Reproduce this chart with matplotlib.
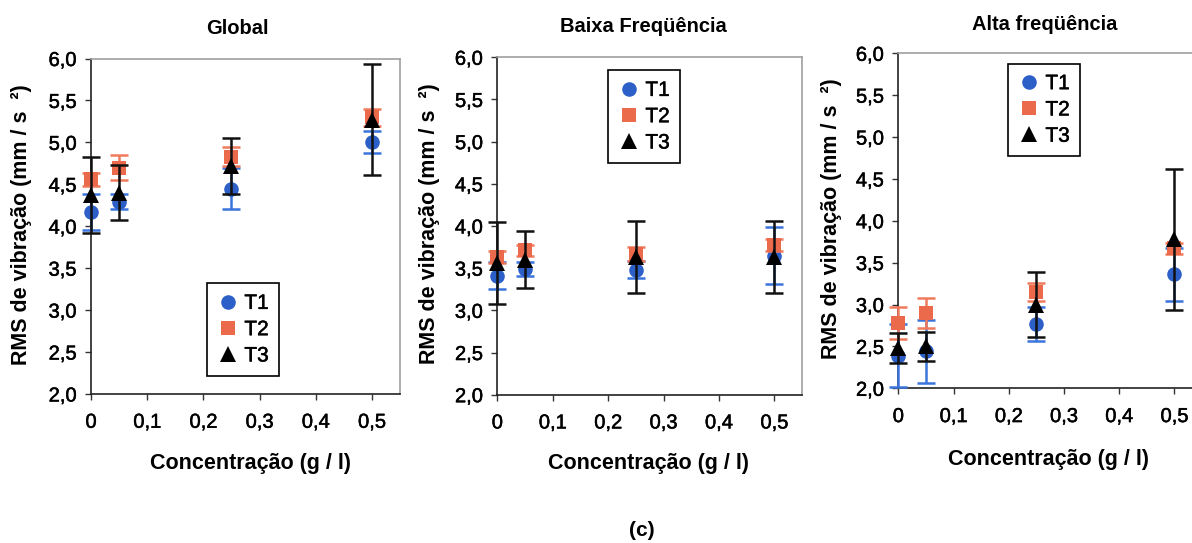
import matplotlib
matplotlib.use("Agg")
import matplotlib.pyplot as plt
import matplotlib.patheffects as pe
from matplotlib.lines import Line2D

plt.rcParams['font.family'] = ['Liberation Sans', 'DejaVu Sans']

# ---- data ----
conc = [0.0, 0.05, 0.25, 0.5]
series_names = ["T1", "T2", "T3"]

titles = ["Global", "Baixa Freqüência", "Alta freqüência"]

glob_t1 = [4.17, 4.29, 4.45, 5.00]
glob_t1_err = [0.22, 0.09, 0.24, 0.13]
glob_t2 = [4.56, 4.70, 4.83, 5.30]
glob_t2_err = [0.08, 0.15, 0.11, 0.10]
glob_t3 = [4.37, 4.40, 4.72, 5.27]
glob_t3_err = [0.45, 0.33, 0.33, 0.66]

baixa_t1 = [3.41, 3.49, 3.48, 3.65]
baixa_t1_err = [0.16, 0.08, 0.10, 0.34]
baixa_t2 = [3.63, 3.71, 3.67, 3.77]
baixa_t2_err = [0.07, 0.06, 0.08, 0.07]
baixa_t3 = [3.56, 3.60, 3.63, 3.63]
baixa_t3_err = [0.49, 0.34, 0.43, 0.43]

alta_t1 = [2.39, 2.44, 2.77, 3.36]
alta_t1_err = [0.38, 0.38, 0.20, 0.32]
alta_t2 = [2.78, 2.90, 3.15, 3.67]
alta_t2_err = [0.19, 0.18, 0.11, 0.07]
alta_t3 = [2.48, 2.50, 3.00, 3.78]
alta_t3_err = [0.18, 0.175, 0.39, 0.84]

xticks = [0, 0.1, 0.2, 0.3, 0.4, 0.5]
xtick_labels = ["0", "0,1", "0,2", "0,3", "0,4", "0,5"]
yticks = [2.0, 2.5, 3.0, 3.5, 4.0, 4.5, 5.0, 5.5, 6.0]
ytick_labels = ["2,0", "2,5", "3,0", "3,5", "4,0", "4,5", "5,0", "5,5", "6,0"]

xlabel = "Concentração (g / l)"
ylabel = "RMS de vibração (mm / s  ²)"

# ---- style ----
marker_color = ["#2d5fc8", "#ec6a4c", "#000000"]
err_color = ["#3b74db", "#f07a5c", "#111111"]
markers = ["o", "s", "^"]
msizes = [10.5, 9.5, 11]

panels = [
    (glob_t1, glob_t1_err, glob_t2, glob_t2_err, glob_t3, glob_t3_err),
    (baixa_t1, baixa_t1_err, baixa_t2, baixa_t2_err, baixa_t3, baixa_t3_err),
    (alta_t1, alta_t1_err, alta_t2, alta_t2_err, alta_t3, alta_t3_err),
]

W, H = 1192, 543
fig = plt.figure(figsize=(W / 100, H / 100), dpi=100)

# axes boxes in pixels: left, right, top, bottom
boxes = [(91, 400, 58.5, 394), (497.3, 802, 57.3, 394.7), (898.3, 1202, 53.3, 388.3)]
legend_anchor = [(0.375, 0.054), (0.363, 0.687), (0.361, 0.693)]
title_pos = [(237, 28), (643, 27), (1045, 24)]
xlabel_pos = [(250, 463), (648, 463), (1049, 460)]
ylabel_x = [22, 430, 831]

thick = [pe.withStroke(linewidth=0.35, foreground='black')]

for i, (box, data) in enumerate(zip(boxes, panels)):
    l, r, t, b = box
    ax = fig.add_axes([l / W, 1 - b / H, (r - l) / W, (b - t) / H])
    for k in range(3):
        y = data[2 * k]
        e = data[2 * k + 1]
        ax.errorbar(conc, y, yerr=e, fmt='none',
                    ecolor=err_color[k], elinewidth=1.8, capsize=6.5, capthick=1.8,
                    zorder=3 + 2 * k, clip_on=False)
        ax.plot(conc, y, linestyle='none', marker=markers[k], color=marker_color[k],
                markersize=msizes[k], markeredgewidth=0, zorder=4 + 2 * k,
                clip_on=False)
    ax.set_xlim(0, 0.55)
    ax.set_ylim(2.0, 6.0)
    ax.set_xticks(xticks)
    ax.set_xticklabels(xtick_labels)
    ax.set_yticks(yticks)
    ax.set_yticklabels(ytick_labels)
    ax.tick_params(axis='both', direction='out', length=4.5, width=1,
                   color='#333333', labelsize=14.5, pad=6)
    ax.tick_params(axis='x', pad=9)
    for lab in ax.get_xticklabels() + ax.get_yticklabels():
        lab.set_path_effects(thick)
    ax.spines['left'].set_color('#222222')
    ax.spines['bottom'].set_color('#222222')
    ax.spines['top'].set_color('#a0a0a0')
    ax.spines['right'].set_color('#a0a0a0')
    for s in ax.spines.values():
        s.set_linewidth(1.2)
    fig.text(ylabel_x[i] / W, 1 - ((t + b) / 2 - 2) / H, ylabel, rotation=90,
             ha='center', va='center', fontsize=15.5, fontweight='bold')

    handles = [Line2D([], [], linestyle='none', marker=markers[k], color=marker_color[k],
                      markersize=msizes[k], markeredgewidth=0) for k in range(3)]
    leg = ax.legend(handles, series_names, loc='lower left',
                    bbox_to_anchor=legend_anchor[i], borderaxespad=0,
                    fancybox=False, framealpha=1, edgecolor='black',
                    fontsize=15, handlelength=1.0, handletextpad=0.3,
                    labelspacing=0.35, borderpad=0.5)
    leg.get_frame().set_linewidth(1.2)
    for txt in leg.get_texts():
        txt.set_path_effects(thick)

    tx, ty = title_pos[i]
    fig.text(tx / W, 1 - ty / H, titles[i], ha='center', va='center',
             fontsize=14.5, fontweight='bold')
    lx, ly = xlabel_pos[i]
    fig.text(lx / W, 1 - ly / H, xlabel, ha='center', va='center',
             fontsize=15.5, fontweight='bold')

fig.text(642 / W, 1 - 531 / H, "(c)", ha='center', va='center',
         fontsize=15, fontweight='bold')

fig.savefig("out.png", dpi=100)
